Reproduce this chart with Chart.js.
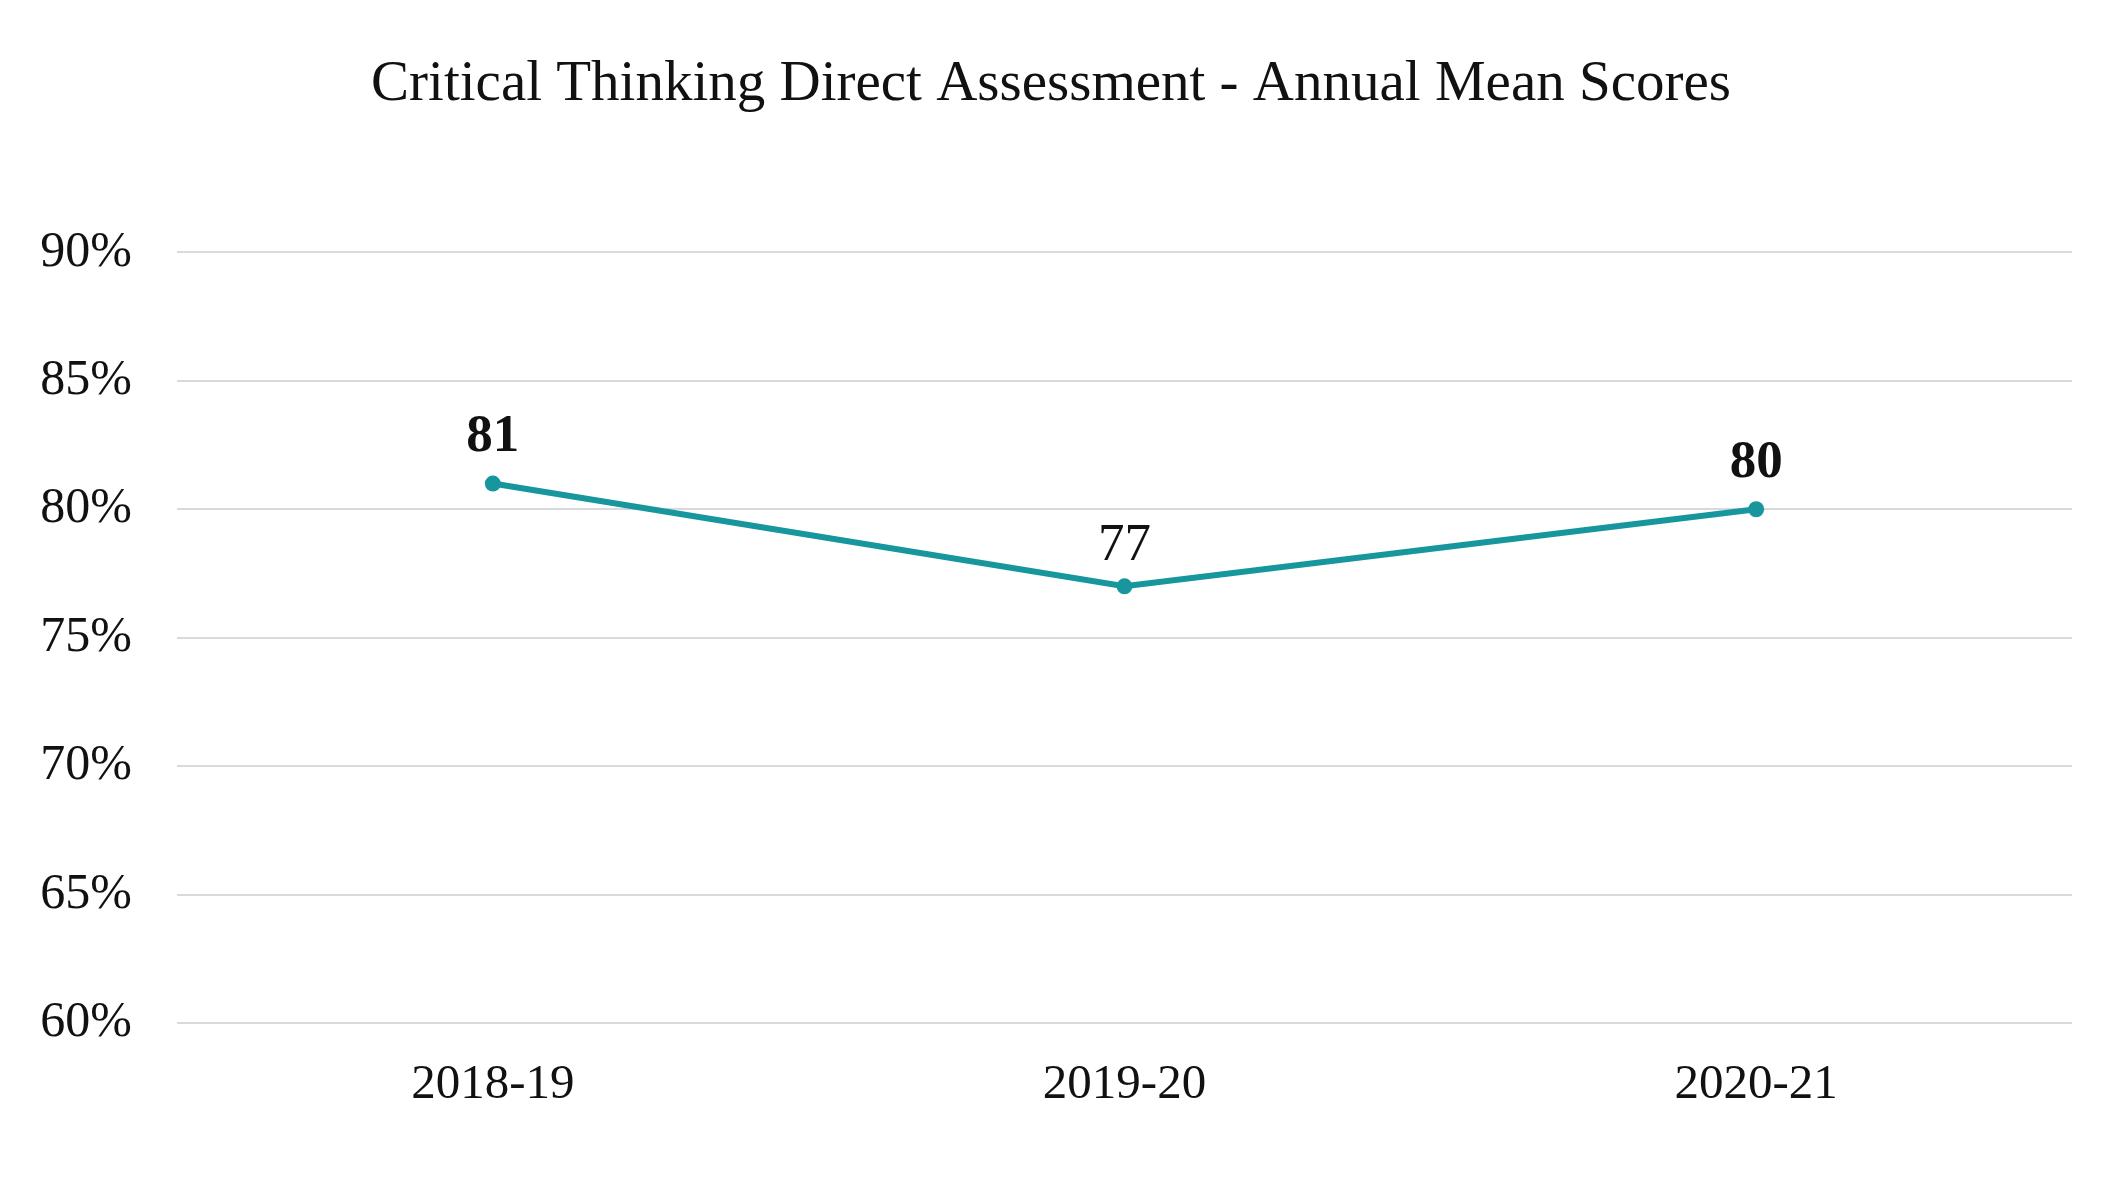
<!DOCTYPE html>
<html>
<head>
<meta charset="utf-8">
<title>Critical Thinking Direct Assessment</title>
<script src="https://cdn.jsdelivr.net/npm/chart.js@4.4.1/dist/chart.umd.min.js"></script>
<style>
    html, body { margin: 0; padding: 0; background: #fff; }
    #wrap { width: 2128px; height: 1182px; }
</style>
</head>
<body>
<div id="wrap"><canvas id="ctChart"></canvas></div>
<script>
// -- Chart data --
const years = ['2018-19', '2019-20', '2020-21'];
const meanScores = [81, 77, 80];
const yTicks = [60, 65, 70, 75, 80, 85, 90];

const FONT = "'Liberation Serif', 'Times New Roman', serif";
const TEAL = '#17979d';

// Draws the value above each point (bold for first and last, like the original)
const pointLabels = {
    id: 'pointLabels',
    afterDatasetsDraw(chart) {
        const ctx = chart.ctx;
        const meta = chart.getDatasetMeta(0);
        const weights = ['bold', 'normal', 'bold'];
        ctx.save();
        ctx.fillStyle = '#111';
        ctx.textAlign = 'center';
        ctx.textBaseline = 'middle';
        meta.data.forEach((pt, i) => {
            const bold = weights[i] === 'bold';
            ctx.font = `${weights[i]} 53px ${FONT}`;
            ctx.fillText(String(chart.data.datasets[0].data[i]), pt.x, pt.y - (bold ? 46 : 40));
        });
        ctx.restore();
    }
};

new Chart(document.getElementById('ctChart'), {
    type: 'line',
    data: {
        labels: years,
        datasets: [{
            label: 'Mean score',
            data: meanScores,
            borderColor: TEAL,
            backgroundColor: TEAL,
            borderWidth: 6,
            pointRadius: 8,
            pointBackgroundColor: TEAL,
            pointBorderWidth: 0,
            tension: 0
        }]
    },
    options: {
        responsive: true,
        maintainAspectRatio: false,
        animation: false,
        layout: {
            padding: { left: 30, right: 56, top: 0, bottom: 0 }
        },
        scales: {
            x: {
                offset: true,
                grid: { display: false, drawTicks: false },
                border: { display: false },
                ticks: {
                    color: '#111',
                    padding: 33,
                    font: { family: FONT, size: 49 }
                },
                afterFit(scale) { scale.height = 159; }
            },
            y: {
                min: 60,
                max: 90,
                afterBuildTicks(scale) {
                    scale.ticks = yTicks.map(v => ({ value: v }));
                },
                grid: { color: '#d9d9d9', lineWidth: 2, drawTicks: false },
                border: { display: false },
                ticks: {
                    color: '#111',
                    padding: 45,
                    font: { family: FONT, size: 50 },
                    callback: v => v + '%'
                },
                afterFit(scale) { scale.width = 147; }
            }
        },
        plugins: {
            legend: { display: false },
            tooltip: { enabled: false },
            title: {
                display: true,
                text: 'Critical Thinking Direct Assessment - Annual Mean Scores',
                color: '#111',
                font: { family: FONT, size: 57, weight: 'normal' },
                padding: { top: 51, bottom: 133 }
            }
        }
    },
    plugins: [pointLabels]
});
</script>
</body>
</html>
